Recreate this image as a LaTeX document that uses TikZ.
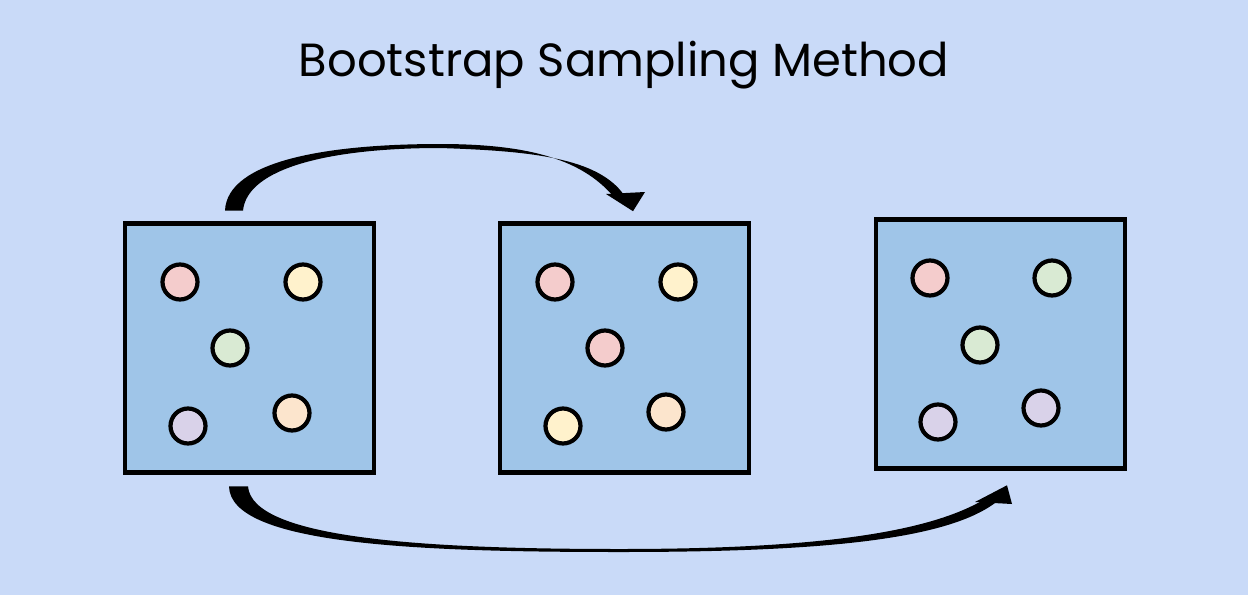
\documentclass[tikz,border=0pt]{standalone}
\usepackage{fontspec}
\setmainfont{Poppins}
\usepackage{xcolor}
\usetikzlibrary{calc,positioning}
\definecolor{bgblue}{HTML}{C9DAF8}
\definecolor{boxblue}{HTML}{9FC5E8}
\definecolor{dotpink}{HTML}{F4CCCC}
\definecolor{dotyellow}{HTML}{FFF2CC}
\definecolor{dotgreen}{HTML}{D9EAD3}
\definecolor{dotpurple}{HTML}{D9D2E9}
\definecolor{dotorange}{HTML}{FCE5CD}

\begin{document}
\begin{tikzpicture}[x=1pt, y=-1pt,
		sample/.style={draw, line width=4.6pt, fill=boxblue, minimum width=249pt, minimum height=249pt, inner sep=0pt},
		dot/.style={circle, draw, line width=4.2pt, minimum size=35pt, inner sep=0pt}]
		\fill [bgblue] (0,0) rectangle (1248,595);
		\useasboundingbox (0,0) rectangle (1248,595);
		\node [font=\fontsize{46.5}{52}\selectfont] (title) at (624,65) {Bootstrap Sampling Method};
		% the three samples
		\node [sample] (box1) at (249.5,348) {};
		\node [sample] (box2) at (624.5,348) {};
		\node [sample] (box3) at (1000.5,344) {};
		% original data
		\node [dot, fill=dotpink] (d11) at (180,282) {};
		\node [dot, fill=dotyellow] (d12) at (303,282) {};
		\node [dot, fill=dotgreen] (d13) at (230,348) {};
		\node [dot, fill=dotpurple] (d14) at (188,426) {};
		\node [dot, fill=dotorange] (d15) at (292,413) {};
		% first bootstrap sample
		\node [dot, fill=dotpink] (d21) at (555,282) {};
		\node [dot, fill=dotyellow] (d22) at (678,282) {};
		\node [dot, fill=dotpink] (d23) at (605,348) {};
		\node [dot, fill=dotyellow] (d24) at (563,426) {};
		\node [dot, fill=dotorange] (d25) at (666,412) {};
		% second bootstrap sample
		\node [dot, fill=dotpink] (d31) at (930,278) {};
		\node [dot, fill=dotgreen] (d32) at (1052,278) {};
		\node [dot, fill=dotgreen] (d33) at (980,345) {};
		\node [dot, fill=dotpurple] (d34) at (938,422) {};
		\node [dot, fill=dotpurple] (d35) at (1041,408) {};
		% brush arrows
		\coordinate (a1) at ($(box1.north)+(-24.5,-10.5)$);
		\coordinate (b1) at ($(box1.north)+(-6.5,-10.5)$);
		\coordinate (t1) at ($(box2.north)+(8.5,-10)$);
		\fill (a1) .. controls (227,160) and (330,144) .. (440,144) .. controls (530,144) and (582,160) .. (613,196)
			-- (624,195) .. controls (598,158) and (532,151) .. (440,148) .. controls (330,148) and (247,168) .. (b1) -- cycle;
		\fill (606,194) -- (645,192) -- (t1) -- cycle;
		\coordinate (a2) at ($(box1.south)+(-20.5,11.5)$);
		\coordinate (b2) at ($(box1.south)+(-1.5,11.5)$);
		\coordinate (t2) at ($(box3.south)+(6.5,14.5)$);
		\fill (a2) .. controls (230,545) and (420,552) .. (620,552) .. controls (820,552) and (945,540) .. (995,503)
			-- (985,499) .. controls (930,532) and (820,549) .. (620,549) .. controls (420,549) and (252,538) .. (b2) -- cycle;
		\fill (975,502) -- (t2) -- (1012,504) -- cycle;
\end{tikzpicture}
\end{document}
